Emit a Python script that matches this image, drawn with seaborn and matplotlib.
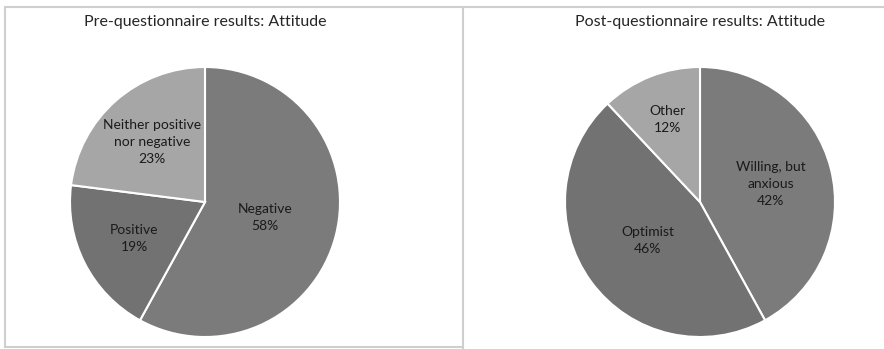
import matplotlib
matplotlib.use("Agg")
import matplotlib.pyplot as plt
import seaborn as sns
import numpy as np
from matplotlib.lines import Line2D

sns.set_theme(style="white")
plt.rcParams['font.family'] = ['Lato', 'DejaVu Sans']

pre_title = "Pre-questionnaire results: Attitude"
pre_labels = ["Negative", "Positive", "Neither positive\nnor negative"]
pre_values = [58, 19, 23]
post_title = "Post-questionnaire results: Attitude"
post_labels = ["Willing, but\nanxious", "Optimist", "Other"]
post_values = [42, 46, 12]

colors = ["#7b7b7b", "#727272", "#a6a6a6"]
pre_dist = [0.46, 0.59, 0.59]
post_dist = [0.54, 0.48, 0.66]

W, H = 884, 349
fig = plt.figure(figsize=(W / 100, H / 100), dpi=100)

def add_pie(cx, cy, r, labels, values, dists, title):
    ax = fig.add_axes([(cx - r) / W, (H - cy - r) / H, 2 * r / W, 2 * r / H])
    wedges, _ = ax.pie(values, colors=colors, startangle=90, counterclock=False,
                       wedgeprops=dict(edgecolor="white", linewidth=1.5))
    for w, lab, v, d in zip(wedges, labels, values, dists):
        th = np.deg2rad((w.theta1 + w.theta2) / 2)
        ax.text(d * np.cos(th), d * np.sin(th), f"{lab}\n{v}%", ha="center", va="center",
                fontsize=10, color="#1a1a1a", linespacing=1.5)
    ax.set_xlim(-1, 1)
    ax.set_ylim(-1, 1)
    ax.axis("off")
    fig.text(cx / W, 1 - 22 / H, title, ha="center", va="center", fontsize=11.5, color="#262626")

add_pie(205, 202, 135, pre_labels, pre_values, pre_dist, pre_title)
add_pie(700, 202, 135, post_labels, post_values, post_dist, post_title)

lc = "#cfcfcf"
def fline(x0, y0, x1, y1):
    fig.add_artist(Line2D([x0 / W, x1 / W], [1 - y0 / H, 1 - y1 / H], color=lc, lw=1.5,
                          transform=fig.transFigure))

fline(5, 7, W, 7)
fline(5, 7, 5, 347)
fline(463, 7, 463, 349)
fline(5, 347, 463, 347)

fig.savefig("out.png", dpi=100)
